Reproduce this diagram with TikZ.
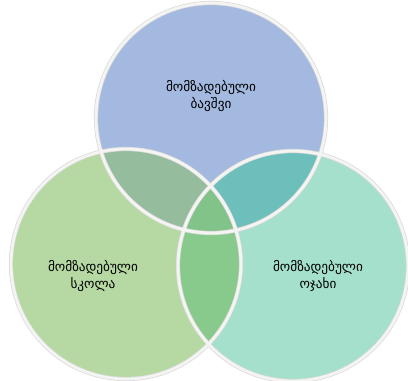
\documentclass[tikz,border=0pt]{standalone}
\usepackage{fontspec}
\newfontfamily\geofont{DejaVu Sans}
\usepackage{tikz}
\usetikzlibrary{positioning}

\begin{document}
\begin{tikzpicture}[x=0.03cm, y=-0.03cm, every node/.style={align=center, font=\geofont\fontsize{11.3}{14.5}\selectfont}]
      \definecolor{childbg}{HTML}{A3B9E0}
      \definecolor{schoolbg}{HTML}{B6D9A3}
      \definecolor{familybg}{HTML}{A5E0CC}
      \definecolor{cschool}{HTML}{96BC9E}
      \definecolor{cfamily}{HTML}{6DBFBC}
      \definecolor{sfamily}{HTML}{88CA8B}
      \definecolor{allbg}{HTML}{82C38A}
      \definecolor{ringcol}{HTML}{F4F4F2}
      \useasboundingbox (0,0) rectangle (408,381);
      \coordinate (child) at (211,118);
      \coordinate (school) at (126,264);
      \coordinate (family) at (293,266);
      \def\rad{3.45cm}
      % circles
      \fill[childbg] (child) circle[radius=\rad];
      \fill[familybg] (family) circle[radius=\rad];
      \fill[schoolbg] (school) circle[radius=\rad];
      % overlaps
      \begin{scope}
        \clip (child) circle[radius=\rad];
        \fill[cschool] (school) circle[radius=\rad];
        \fill[cfamily] (family) circle[radius=\rad];
        \clip (school) circle[radius=\rad];
        \fill[allbg] (family) circle[radius=\rad];
      \end{scope}
      \begin{scope}
        \clip (school) circle[radius=\rad];
        \clip (family) circle[radius=\rad];
        \fill[sfamily] (120,140) rectangle (300,381);
        \clip (child) circle[radius=\rad];
        \fill[allbg] (child) circle[radius=\rad];
      \end{scope}
      % rings
      \draw[black!15, line width=3.6pt] (child) circle[radius=\rad] (family) circle[radius=\rad] (school) circle[radius=\rad];
      \draw[ringcol, line width=2.4pt] (child) circle[radius=\rad] (family) circle[radius=\rad] (school) circle[radius=\rad];
      % labels
      \node (childtxt) at (211,96) {მომზადებული\\ბავშვი};
      \node (schooltxt) at (93,276) {მომზადებული\\სკოლა};
      \node (familytxt) at (318,276) {მომზადებული\\ოჯახი};
    \end{tikzpicture}
\end{document}
